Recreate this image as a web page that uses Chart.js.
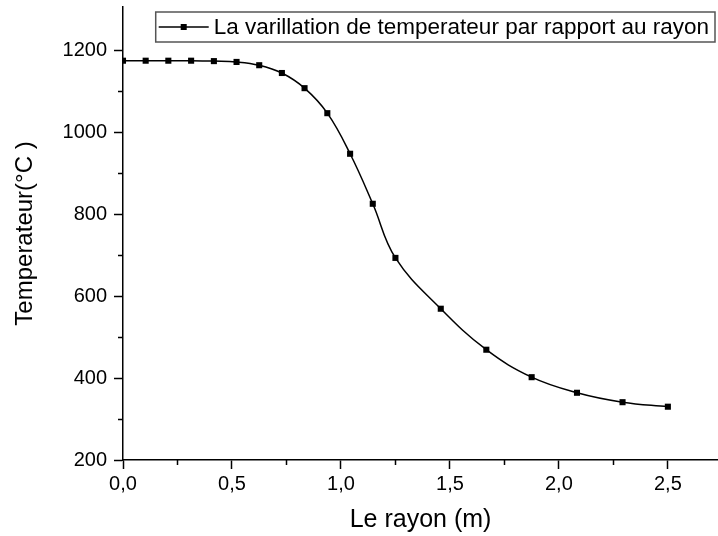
<!DOCTYPE html>
<html>
<head>
<meta charset="utf-8">
<script src="https://cdn.jsdelivr.net/npm/chart.js@4.4.0/dist/chart.umd.min.js"></script>
<style>
  html, body { margin: 0; padding: 0; background: #fff; }
</style>
</head>
<body>
<canvas id="line-chartcanvas" width="718" height="536"></canvas>
<script>
// rayon (m) / temperature (°C)
var rayon = [0, 0.104, 0.208, 0.3125, 0.417, 0.521, 0.625, 0.729, 0.833, 0.9375, 1.042, 1.146, 1.25,
             1.458, 1.667, 1.875, 2.083, 2.292, 2.5];
var temperature = [1174, 1174, 1174, 1174, 1173, 1171, 1163, 1144, 1107, 1046, 947, 825, 693,
                   569, 469, 402, 364, 341, 330];
var xTicks = [0, 0.5, 1, 1.5, 2, 2.5];
var xMinor = [0.25, 0.75, 1.25, 1.75, 2.25];
var yTicks = [200, 400, 600, 800, 1000, 1200];
var yMinor = [300, 500, 700, 900, 1100];
var serieLabel = 'La varillation de temperateur par rapport au rayon';

var FONT = '"Liberation Sans", Arial, sans-serif';

// short ticks between the labelled ones
var minorTicks = {
  id: 'minorTicks',
  afterDraw: function(chart) {
    var ctx = chart.ctx, xs = chart.scales.x, ys = chart.scales.y;
    ctx.save();
    ctx.strokeStyle = '#000';
    ctx.lineWidth = 1.5;
    ctx.beginPath();
    xMinor.forEach(function(v) {
      var px = Math.round(xs.getPixelForValue(v)) + 0.5;
      ctx.moveTo(px, xs.top);
      ctx.lineTo(px, xs.top + 5);
    });
    yMinor.forEach(function(v) {
      var py = Math.round(ys.getPixelForValue(v)) + 0.5;
      ctx.moveTo(ys.right, py);
      ctx.lineTo(ys.right - 5, py);
    });
    ctx.stroke();
    ctx.restore();
  }
};

// boxed legend in the upper right corner: line + square marker + label
var boxLegend = {
  id: 'boxLegend',
  afterDraw: function(chart) {
    var ctx = chart.ctx, area = chart.chartArea;
    ctx.save();
    ctx.font = '22.5px ' + FONT;
    var tw = ctx.measureText(serieLabel).width;
    var right = area.right - 3, top = 12, h = 30;
    var textLeft = right - 6 - tw;
    var lineL = textLeft - 55, lineR = textLeft - 5;
    var left = lineL - 3;
    ctx.fillStyle = '#fff';
    ctx.fillRect(left, top, right - left, h);
    ctx.strokeStyle = '#555';
    ctx.lineWidth = 1.5;
    ctx.strokeRect(left, top, right - left, h);
    var cy = top + h / 2;
    ctx.strokeStyle = '#000';
    ctx.beginPath();
    ctx.moveTo(lineL, cy);
    ctx.lineTo(lineR, cy);
    ctx.stroke();
    ctx.fillStyle = '#000';
    var mx = (lineL + lineR) / 2;
    ctx.fillRect(mx - 3, cy - 3, 6, 6);
    ctx.textBaseline = 'middle';
    ctx.fillText(serieLabel, textLeft, cy + 1);
    ctx.restore();
  }
};

var ctx = document.getElementById('line-chartcanvas');

var LineGraph = new Chart(ctx, {
  type: 'line',
  data: {
    datasets: [{
      label: serieLabel,
      data: rayon.map(function(r, i) { return { x: r, y: temperature[i] }; }),
      borderColor: '#000',
      backgroundColor: '#000',
      borderWidth: 1.5,
      fill: false,
      tension: 0.4,
      pointStyle: 'rect',
      pointRadius: 4.3,
      pointBorderWidth: 0,
      pointBackgroundColor: '#000'
    }]
  },
  options: {
    responsive: false,
    animation: false,
    layout: { autoPadding: false, padding: { top: 7, right: 0, left: 0, bottom: 0 } },
    plugins: {
      legend: { display: false },
      tooltip: { enabled: false }
    },
    scales: {
      x: {
        type: 'linear',
        min: 0,
        max: 2.73,
        border: { color: '#000', width: 1.5 },
        grid: { drawOnChartArea: false, drawTicks: true, tickLength: 9, tickColor: '#000', tickWidth: 1.5 },
        afterBuildTicks: function(s) { s.ticks = xTicks.map(function(v) { return { value: v }; }); },
        afterFit: function(s) { s.height = 76; s.paddingLeft = 0; s.paddingRight = 0; },
        ticks: {
          color: '#000',
          padding: 3,
          font: { family: FONT, size: 20 },
          callback: function(v) { return v.toFixed(1).replace('.', ','); }
        },
        title: {
          display: true,
          text: 'Le rayon (m)',
          color: '#000',
          font: { family: FONT, size: 25 },
          padding: { top: 0, bottom: 1 }
        }
      },
      y: {
        type: 'linear',
        min: 200,
        max: 1305,
        border: { color: '#000', width: 1.5 },
        grid: { drawOnChartArea: false, drawTicks: true, tickLength: 9, tickColor: '#000', tickWidth: 1.5 },
        afterBuildTicks: function(s) { s.ticks = yTicks.map(function(v) { return { value: v }; }); },
        afterFit: function(s) { s.width = 123; s.paddingTop = 0; s.paddingBottom = 0; },
        ticks: {
          color: '#000',
          padding: 7,
          font: { family: FONT, size: 20 },
          callback: function(v) { return String(v); }
        },
        title: {
          display: true,
          text: 'Temperateur(°C )',
          color: '#000',
          font: { family: FONT, size: 24 },
          padding: { top: 11, bottom: 0 }
        }
      }
    }
  },
  plugins: [minorTicks, boxLegend]
});
</script>
</body>
</html>
